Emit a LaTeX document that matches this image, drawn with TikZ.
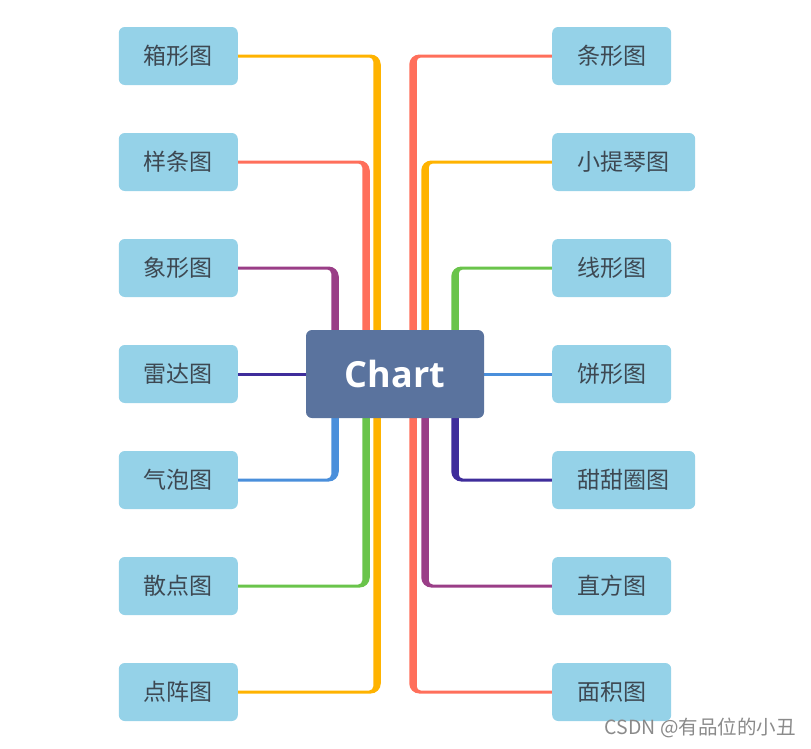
\documentclass[tikz,border=0pt]{standalone}
\usepackage{fontspec}
\newfontfamily\cjk{Noto Sans CJK SC}
\newfontfamily\opensans{Open Sans}
\usetikzlibrary{backgrounds}
\definecolor{cy}{HTML}{FFB300}
\definecolor{cr}{HTML}{FF6F5B}
\definecolor{cp}{HTML}{9A3E87}
\definecolor{cn}{HTML}{3F2D9B}
\definecolor{cb}{HTML}{4A8FDB}
\definecolor{cg}{HTML}{6AC44B}
\definecolor{leaffill}{HTML}{95D2E8}
\definecolor{centerfill}{HTML}{5A739E}
\definecolor{leaftext}{HTML}{3D4852}
\definecolor{wmgray}{HTML}{8A8A8A}
% #1 leaf anchor, #2 x of vertical, #3 y of horizontal, #4 colour, #5 horizontal direction, #6 vertical direction
\newcommand\branchfill[6]{%
  \pgfmathsetmacro\ox{#2+(#5)*3.75}%
  \pgfmathsetmacro\oy{#3-(#6)*1.5}%
  \pgfmathsetmacro\ix{#2-(#5)*3.75}%
  \pgfmathsetmacro\iy{#3+(#6)*1.5}%
  \pgfmathsetmacro\oxa{\ox-(#5)*10}%
  \pgfmathsetmacro\oxb{\ox-(#5)*4.48}%
  \pgfmathsetmacro\oyb{\oy+(#6)*4.48}%
  \pgfmathsetmacro\oya{\oy+(#6)*10}%
  \pgfmathsetmacro\iya{\iy+(#6)*4}%
  \pgfmathsetmacro\iyb{\iy+(#6)*1.79}%
  \pgfmathsetmacro\ixb{\ix-(#5)*1.79}%
  \pgfmathsetmacro\ixa{\ix-(#5)*4}%
  \pgfmathsetmacro\hs{(#6)*1.5}%
  \pgfmathsetmacro\hn{-(#6)*1.5}%
  \fill[#4] ([yshift=\hs pt]#1) -- (\oxa,\oy)
    .. controls (\oxb,\oy) and (\ox,\oyb) .. (\ox,\oya)
    -- (\ox,374) -- (\ix,374) -- (\ix,\iya)
    .. controls (\ix,\iyb) and (\ixb,\iy) .. (\ixa,\iy)
    -- ([yshift=\hn pt]#1) -- cycle;}
\begin{document}
\begin{tikzpicture}[x=1pt,y=-1pt,
  leaf/.style={fill=leaffill, rounded corners=6pt, minimum width=119pt, minimum height=58pt, inner sep=0pt, font=\cjk\fontsize{23}{23}\selectfont, text=leaftext},
  wideleaf/.style={leaf, minimum width=143pt},
  hub/.style={fill=centerfill, rounded corners=6pt, minimum width=178pt, minimum height=88pt, inner sep=0pt, font=\opensans\bfseries\fontsize{36}{36}\selectfont, text=white},
  straightconn/.style={line width=3pt}]
\useasboundingbox (0,0) rectangle (811,748);
\node[hub] (c) at (395,374) {Chart};
\node[leaf, anchor=east] (l1) at (238,56) {箱形图};
\node[leaf, anchor=east] (l2) at (238,162) {样条图};
\node[leaf, anchor=east] (l3) at (238,268) {象形图};
\node[leaf, anchor=east] (l4) at (238,374) {雷达图};
\node[leaf, anchor=east] (l5) at (238,480) {气泡图};
\node[leaf, anchor=east] (l6) at (238,586) {散点图};
\node[leaf, anchor=east] (l7) at (238,692) {点阵图};
\node[leaf, anchor=west] (r1) at (552,56) {条形图};
\node[wideleaf, anchor=west] (r2) at (552,162) {小提琴图};
\node[leaf, anchor=west] (r3) at (552,268) {线形图};
\node[leaf, anchor=west] (r4) at (552,374) {饼形图};
\node[wideleaf, anchor=west] (r5) at (552,480) {甜甜圈图};
\node[leaf, anchor=west] (r6) at (552,586) {直方图};
\node[leaf, anchor=west] (r7) at (552,692) {面积图};
\node[font=\cjk\fontsize{19.5}{19.5}\selectfont, text=wmgray, anchor=east, inner sep=0pt] (wm) at (796,728) {CSDN @有品位的小丑};
\begin{pgfonlayer}{background}
\branchfill{l1.east}{377}{56}{cy}{1}{1}
\branchfill{l2.east}{366}{162}{cr}{1}{1}
\branchfill{l3.east}{335}{268}{cp}{1}{1}
\branchfill{l5.east}{335}{480}{cb}{1}{-1}
\branchfill{l6.east}{366}{586}{cg}{1}{-1}
\branchfill{l7.east}{377}{692}{cy}{1}{-1}
\branchfill{r1.west}{413}{56}{cr}{-1}{1}
\branchfill{r2.west}{425}{162}{cy}{-1}{1}
\branchfill{r3.west}{455}{268}{cg}{-1}{1}
\branchfill{r5.west}{455}{480}{cn}{-1}{-1}
\branchfill{r6.west}{425}{586}{cp}{-1}{-1}
\branchfill{r7.west}{413}{692}{cr}{-1}{-1}
\draw[straightconn, cn] (l4.east) -- (c.center);
\draw[straightconn, cb] (r4.west) -- (c.center);
\end{pgfonlayer}
\end{tikzpicture}
\end{document}
